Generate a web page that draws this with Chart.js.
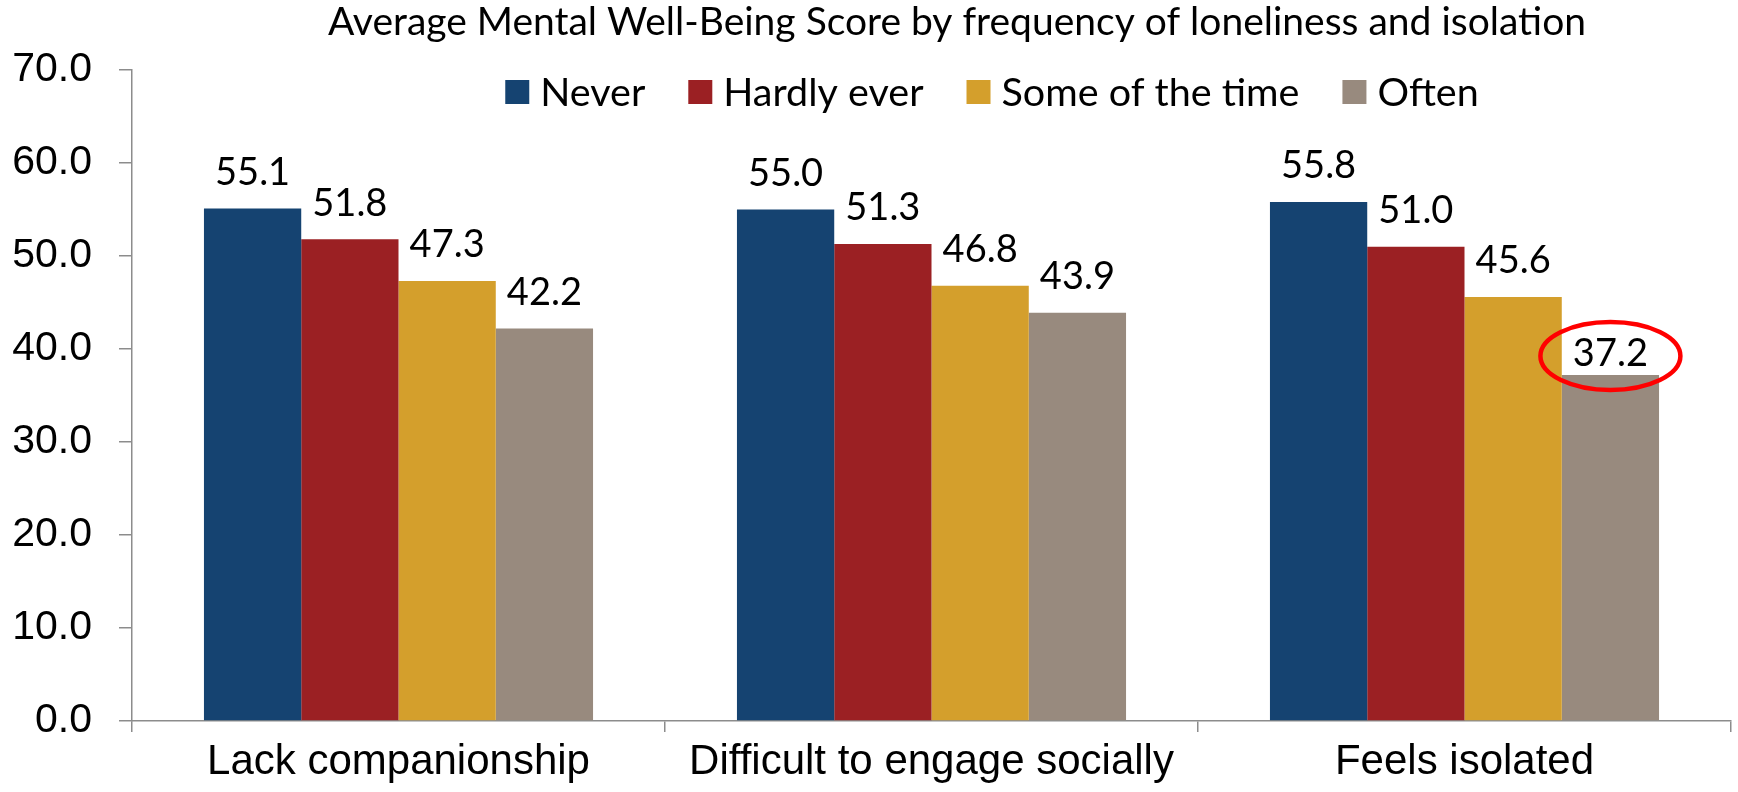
<!DOCTYPE html>
<html>
<head>
<meta charset="utf-8">
<title>Average Mental Well-Being Score</title>
<script src="https://cdn.jsdelivr.net/npm/chart.js@4.4.1/dist/chart.umd.min.js"></script>
<style>
  html, body { margin: 0; padding: 0; background: #fff; }
  #wrap { width: 1738px; height: 792px; position: relative; }
</style>
</head>
<body>
<div id="wrap"><canvas id="chart"></canvas></div>
<script>
// chart data
var categories = ["Lack companionship", "Difficult to engage socially", "Feels isolated"];
var seriesNames = ["Never", "Hardly ever", "Some of the time", "Often"];
var never = [55.1, 55.0, 55.8];
var hardlyEver = [51.8, 51.3, 51.0];
var someOfTheTime = [47.3, 46.8, 45.6];
var often = [42.2, 43.9, 37.2];
var yTicks = [0, 10, 20, 30, 40, 50, 60, 70];
var titleText = "Average Mental Well-Being Score by frequency of loneliness and isolation";
var circled = { series: 3, category: 2 };   // the value ringed in red

var colors = ["#154371", "#9b2023", "#d49f2c", "#988a7e"];
var axisColor = "#8c8c8c";
var calibriLike = "Lato, 'Open Sans', sans-serif";
var arialLike = "'Liberation Sans', Arial, sans-serif";

// title, legend, value labels and the red ring
var overlay = {
  id: "overlay",
  afterDatasetsDraw: function (chart) {
    var ctx = chart.ctx;
    ctx.save();

    // value labels
    ctx.font = "38px " + calibriLike;
    ctx.fillStyle = "#000";
    ctx.textAlign = "center";
    ctx.textBaseline = "middle";
    chart.data.datasets.forEach(function (ds, i) {
      chart.getDatasetMeta(i).data.forEach(function (bar, j) {
        var hl = i === circled.series && j === circled.category;
        ctx.fillText(ds.data[j].toFixed(1), bar.x, bar.y - (hl ? 21 : 36));
      });
    });

    // ring
    var b = chart.getDatasetMeta(circled.series).data[circled.category];
    ctx.strokeStyle = "#f00";
    ctx.lineWidth = 4.5;
    ctx.beginPath();
    ctx.ellipse(b.x, b.y - 19, 70, 34, 0, 0, Math.PI * 2);
    ctx.stroke();

    // legend
    ctx.font = "39.5px " + calibriLike;
    ctx.textAlign = "left";
    var box = 24, gap = 11, between = 43, ly = 92;
    var widths = seriesNames.map(function (n) { return box + gap + ctx.measureText(n).width; });
    var total = widths.reduce(function (a, w) { return a + w; }, 0) + between * (widths.length - 1);
    var x = 992 - total / 2;
    seriesNames.forEach(function (n, i) {
      ctx.fillStyle = colors[i];
      ctx.fillRect(x, ly - box / 2, box, box);
      ctx.fillStyle = "#000";
      ctx.fillText(n, x + box + gap, ly + 1);
      x += widths[i] + between;
    });

    // title
    ctx.font = "39px " + calibriLike;
    ctx.textAlign = "center";
    ctx.fillText(titleText, 957, 22);

    ctx.restore();
  }
};

var datasets = [never, hardlyEver, someOfTheTime, often].map(function (vals, i) {
  return {
    label: seriesNames[i],
    data: vals,
    backgroundColor: colors[i],
    borderWidth: 0,
    categoryPercentage: 0.73,
    barPercentage: 1.0
  };
});

new Chart(document.getElementById("chart"), {
  type: "bar",
  data: { labels: categories, datasets: datasets },
  options: {
    responsive: true,
    maintainAspectRatio: false,
    animation: false,
    layout: { padding: { top: 70, right: 7, bottom: 0, left: 0 } },
    plugins: {
      legend: { display: false },
      title: { display: false },
      tooltip: { enabled: false }
    },
    scales: {
      x: {
        afterFit: function (s) { s.height = 71; },
        border: { color: axisColor, width: 1.5 },
        grid: { offset: true, drawOnChartArea: false, drawTicks: true, tickLength: 11, color: axisColor, lineWidth: 1.5 },
        ticks: { color: "#000", font: { family: arialLike, size: 42 }, padding: 5, maxRotation: 0 }
      },
      y: {
        min: yTicks[0],
        max: yTicks[yTicks.length - 1],
        afterFit: function (s) { s.width = 132; },
        afterBuildTicks: function (s) { s.ticks = yTicks.map(function (v) { return { value: v }; }); },
        border: { color: axisColor, width: 1.5 },
        grid: { drawOnChartArea: false, drawTicks: true, tickLength: 13, color: axisColor, lineWidth: 1.5 },
        ticks: {
          color: "#000",
          font: { family: arialLike, size: 41 },
          padding: 27,
          callback: function (v) { return Number(v).toFixed(1); }
        }
      }
    }
  },
  plugins: [overlay]
});
</script>
</body>
</html>
